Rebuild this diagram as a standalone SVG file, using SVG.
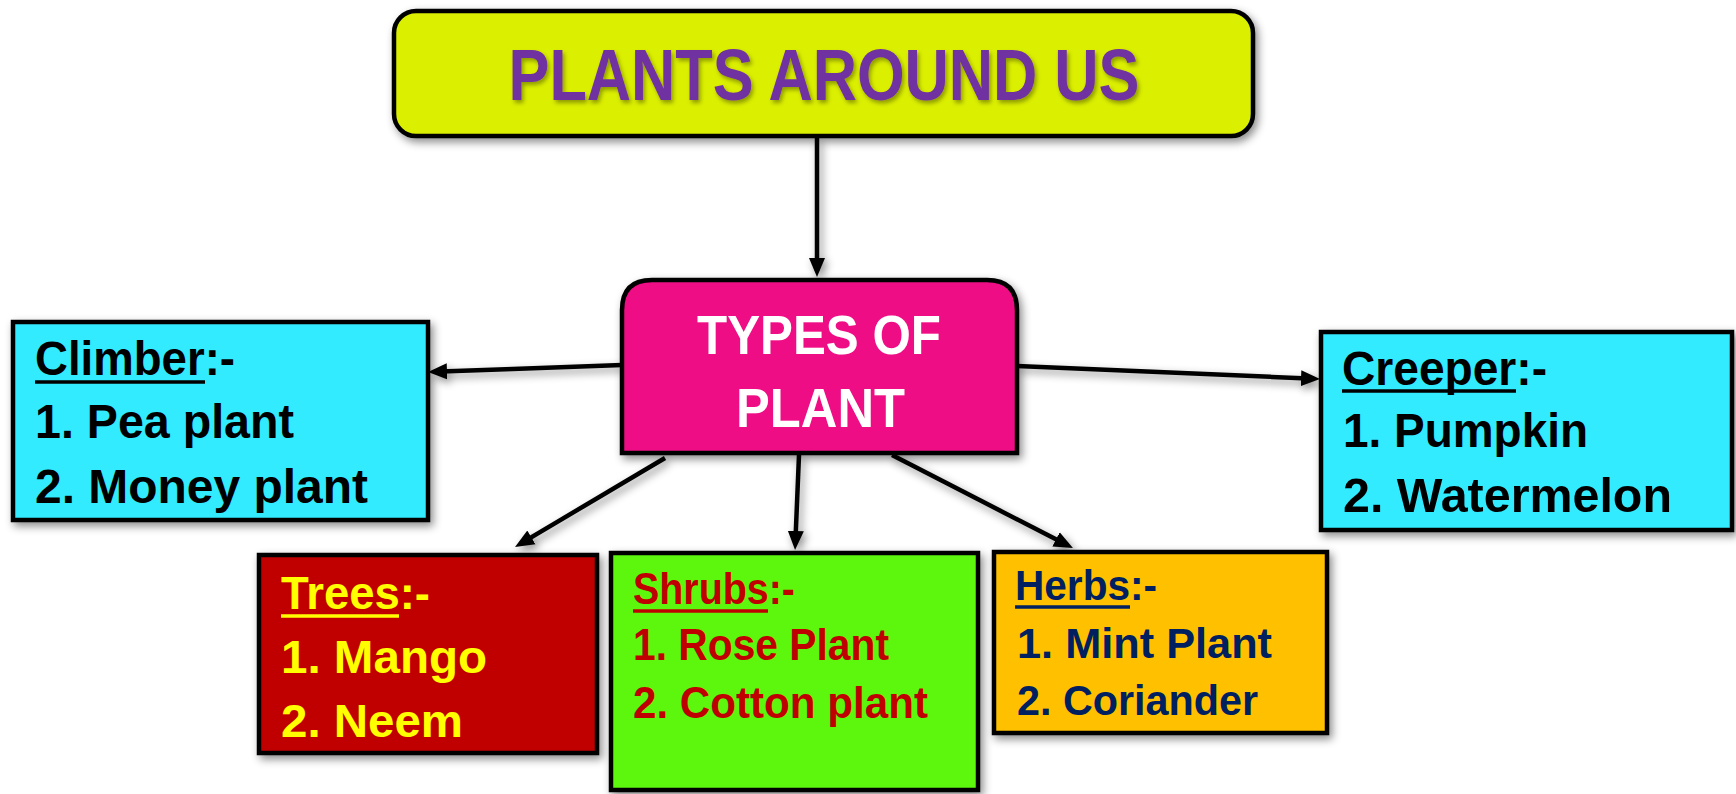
<svg xmlns="http://www.w3.org/2000/svg" width="1736" height="794" viewBox="0 0 1736 794">
<defs>
<style>
.box{stroke:#000;stroke-width:4.5;filter:url(#sh);}
.t{font-family:"Liberation Sans",Arial,sans-serif;font-weight:bold;}
.ul{stroke-width:3.5;}
.conn line{stroke:#000;stroke-width:4.5;marker-end:url(#ah);}
</style>
<filter id="sh" x="-10%" y="-10%" width="125%" height="130%">
<feDropShadow dx="3" dy="4" stdDeviation="4" flood-color="#000" flood-opacity="0.45"/>
</filter>
<filter id="tsh" x="-5%" y="-10%" width="110%" height="130%">
<feDropShadow dx="2" dy="3" stdDeviation="2" flood-color="#000" flood-opacity="0.35"/>
</filter>
<marker id="ah" markerUnits="userSpaceOnUse" markerWidth="20" markerHeight="18" refX="13" refY="9" orient="auto" viewBox="0 0 20 18">
<path d="M0,1 L19,9 L0,17 z" fill="#000"/>
</marker>
</defs>
<rect width="1736" height="794" fill="#fff"/>

<g id="connectors" class="conn" filter="url(#sh)">
<line x1="817" y1="138" x2="817" y2="271"/>
<line x1="622" y1="365" x2="434" y2="371.8"/>
<line x1="1017" y1="366" x2="1314" y2="378.7"/>
<line x1="665" y1="458" x2="520.2" y2="543.9"/>
<line x1="799" y1="455" x2="795.3" y2="544"/>
<line x1="892" y1="455" x2="1067.6" y2="545.3"/>
</g>

<g id="title">
<rect class="box" x="394" y="11" width="859" height="125" rx="22" fill="#DBEF00"/>
<text class="t" x="824" y="100" font-size="72" fill="#7030A0" text-anchor="middle" textLength="631" lengthAdjust="spacingAndGlyphs" filter="url(#tsh)">PLANTS AROUND US</text>
</g>

<g id="types">
<path class="box" d="M622,453 L622,310 Q622,280 652,280 L987,280 Q1017,280 1017,310 L1017,453 Z" fill="#EE0A85"/>
<text class="t" x="819" y="354" font-size="56" fill="#fff" text-anchor="middle" textLength="244" lengthAdjust="spacingAndGlyphs">TYPES OF</text>
<text class="t" x="820.5" y="427" font-size="56" fill="#fff" text-anchor="middle" textLength="169" lengthAdjust="spacingAndGlyphs">PLANT</text>
</g>

<g id="climber">
<rect class="box" x="13" y="322" width="415" height="198" fill="#33EBFF"/>
<text class="t" x="35" y="375" font-size="48" fill="#000" textLength="200" lengthAdjust="spacingAndGlyphs">Climber:-</text>
<line class="ul" x1="35" y1="382" x2="205" y2="382" stroke="#000"/>
<text class="t" x="35" y="438" font-size="48" fill="#000" textLength="259" lengthAdjust="spacingAndGlyphs">1. Pea plant</text>
<text class="t" x="35" y="503" font-size="48" fill="#000" textLength="333" lengthAdjust="spacingAndGlyphs">2. Money plant</text>
</g>

<g id="creeper">
<rect class="box" x="1321" y="332" width="411" height="198" fill="#33EBFF"/>
<text class="t" x="1342" y="385" font-size="48" fill="#000" textLength="205" lengthAdjust="spacingAndGlyphs">Creeper:-</text>
<line class="ul" x1="1342" y1="391" x2="1516" y2="391" stroke="#000"/>
<text class="t" x="1343" y="447" font-size="48" fill="#000" textLength="245" lengthAdjust="spacingAndGlyphs">1. Pumpkin</text>
<text class="t" x="1343" y="512" font-size="48" fill="#000" textLength="329" lengthAdjust="spacingAndGlyphs">2. Watermelon</text>
</g>

<g id="trees">
<rect class="box" x="259" y="555" width="338" height="198" fill="#C00000"/>
<text class="t" x="281" y="609" font-size="47" fill="#FFFF00" textLength="149" lengthAdjust="spacingAndGlyphs">Trees:-</text>
<line class="ul" x1="281" y1="616" x2="399" y2="616" stroke="#FFFF00"/>
<text class="t" x="281" y="673" font-size="47" fill="#FFFF00" textLength="206" lengthAdjust="spacingAndGlyphs">1. Mango</text>
<text class="t" x="281" y="737" font-size="47" fill="#FFFF00" textLength="182" lengthAdjust="spacingAndGlyphs">2. Neem</text>
</g>

<g id="shrubs">
<rect class="box" x="611" y="553" width="367" height="237" fill="#5DF60B"/>
<text class="t" x="633" y="604" font-size="44" fill="#C00000" textLength="162" lengthAdjust="spacingAndGlyphs">Shrubs:-</text>
<line class="ul" x1="633" y1="611" x2="768" y2="611" stroke="#C00000"/>
<text class="t" x="633" y="660" font-size="44" fill="#C00000" textLength="256" lengthAdjust="spacingAndGlyphs">1. Rose Plant</text>
<text class="t" x="633" y="718" font-size="44" fill="#C00000" textLength="295" lengthAdjust="spacingAndGlyphs">2. Cotton plant</text>
</g>

<g id="herbs">
<rect class="box" x="994" y="552" width="333" height="181" fill="#FFC000"/>
<text class="t" x="1015" y="600" font-size="43" fill="#002060" textLength="142" lengthAdjust="spacingAndGlyphs">Herbs:-</text>
<line class="ul" x1="1015" y1="607" x2="1130" y2="607" stroke="#002060"/>
<text class="t" x="1017" y="658" font-size="43" fill="#002060" textLength="255" lengthAdjust="spacingAndGlyphs">1. Mint Plant</text>
<text class="t" x="1017" y="715" font-size="43" fill="#002060" textLength="241" lengthAdjust="spacingAndGlyphs">2. Coriander</text>
</g>
</svg>
